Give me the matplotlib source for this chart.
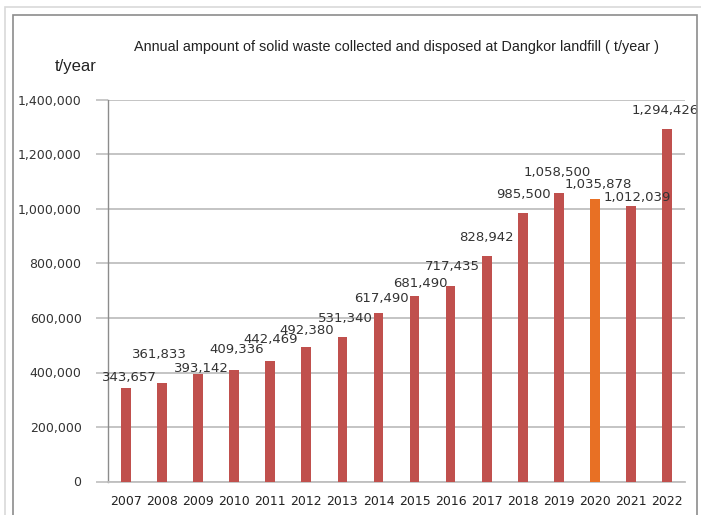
import matplotlib
matplotlib.use("Agg")
import matplotlib.pyplot as plt
from matplotlib.patches import Rectangle

years = ["2007", "2008", "2009", "2010", "2011", "2012", "2013", "2014",
         "2015", "2016", "2017", "2018", "2019", "2020", "2021", "2022"]
values = [343657, 361833, 393142, 409336, 442469, 492380, 531340, 617490,
          681490, 717435, 828942, 985500, 1058500, 1035878, 1012039, 1294426]
highlight_year = "2020"
yticks = [0, 200000, 400000, 600000, 800000, 1000000, 1200000, 1400000]

# label offsets in pixels (dx, dy) relative to bar top centre
label_offsets = [(3, 10), (-3, 28), (3, 6), (2, 20), (0, 21), (0, 17), (3, 18), (3, 15),
                 (6, 12), (2, 19), (0, 18), (1, 18), (-2, 21), (3, 15), (6, 8), (-2, 18)]

W, H = 701, 515
fig = plt.figure(figsize=(W / 100, H / 100), dpi=100)
fig.patch.set_facecolor("white")

# frames
fig.add_artist(Rectangle((5 / W, -0.1), 1.2, (H - 7) / H + 0.1, transform=fig.transFigure,
                         fill=False, edgecolor="#d9d9d9", linewidth=1.2))
fig.add_artist(Rectangle((13 / W, -0.1), (697 - 13) / W, (H - 15) / H + 0.1,
                         transform=fig.transFigure, fill=False, edgecolor="#8c8c8c", linewidth=1.2))

ax = fig.add_axes([108 / W, 33.5 / H, 577 / W, 381.5 / H])
x = list(range(len(years)))
colors = ["#E87024" if y == highlight_year else "#C0504D" for y in years]
ax.bar(x, values, width=0.27, color=colors, zorder=3)
ax.set_xlim(-0.5, len(years) - 0.5)
ax.set_ylim(0, 1400000)
ax.set_yticks(yticks)
ax.set_yticklabels([f"{v:,}" for v in yticks], fontsize=9, color="#333333")
ax.set_xticks(x)
ax.set_xticklabels(years, fontsize=9, color="#222222")
ax.tick_params(axis="x", length=0, pad=10)
ax.tick_params(axis="y", length=9, width=1.2, color="#bfbfbf", pad=10)
ax.yaxis.grid(True, color="#bfbfbf", linewidth=1.3, zorder=0)
ax.set_axisbelow(True)
for s in ["top", "right"]:
    ax.spines[s].set_visible(False)
ax.spines["left"].set_color("#8c8c8c")
ax.spines["left"].set_linewidth(1.0)
ax.spines["bottom"].set_color("#bfbfbf")
ax.spines["bottom"].set_linewidth(1.3)

for i, (v, (dx, dy)) in enumerate(zip(values, label_offsets)):
    ax.annotate(f"{v:,}", (i, v), xytext=(dx, dy), textcoords="offset pixels",
                ha="center", va="center", fontsize=9.5, color="#333333", zorder=4)

fig.text(397 / W, 1 - 47 / H,
         "Annual ampount of solid waste collected and disposed at Dangkor landfill ( t/year )",
         ha="center", va="center", fontsize=10.4, color="#222222", family="Liberation Sans")
fig.text(76 / W, 1 - 66 / H, "t/year", ha="center", va="center", fontsize=12,
         color="#222222", family="Liberation Sans")

fig.savefig("out.png", dpi=100)
